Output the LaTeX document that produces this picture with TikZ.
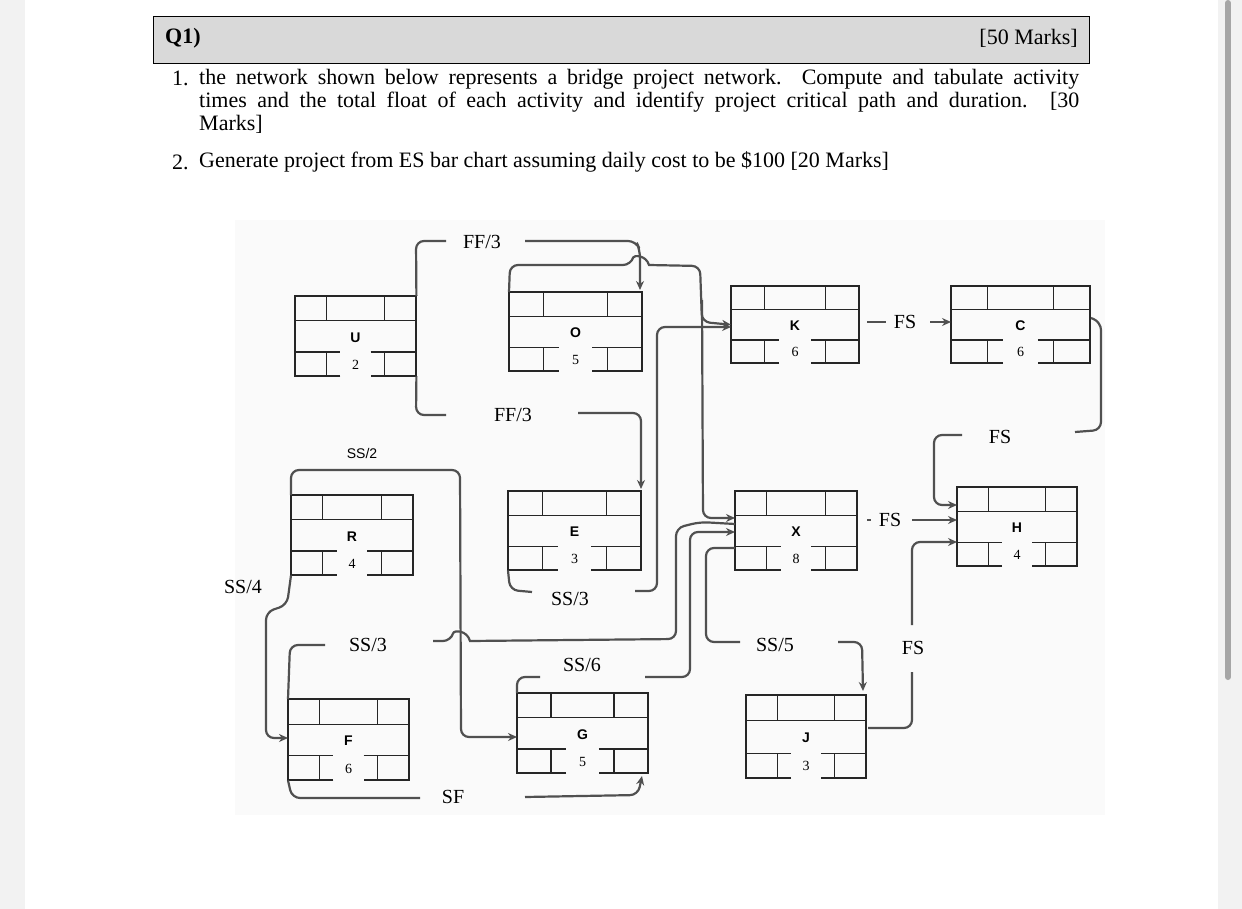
\documentclass[tikz,border=0pt]{standalone}
\usepackage{fontspec}
\setmainfont{Liberation Serif}
\newfontfamily\sansf{Liberation Sans}
\usetikzlibrary{arrows.meta}
\definecolor{conn}{HTML}{505050}
\tikzset{
  boxline/.style={draw=black!85,line width=1.2pt},
  conn/.style={draw=conn,line width=2.2pt,rounded corners=8pt},
  arr/.style={conn,-{Stealth[length=9pt,width=8pt]}},
  lab/.style={font=\fontsize{20}{22}\selectfont,inner sep=1pt},
  txt/.style={font=\fontsize{22}{23}\selectfont,anchor=west,inner sep=0pt},
}
\newcommand\actbox[7]{%
  \node[minimum width=#4pt,minimum height=#5pt,inner sep=0pt,anchor=north west] (#1) at (#2,#3) {};
  \begin{scope}[shift={(#2,#3)}]
    \draw[boxline] (0.375*#4,#5) -- (0,#5) -- (0,0) -- (#4,0) -- (#4,#5) -- (0.625*#4,#5);
    \draw[boxline] (0,0.31*#5) -- (#4,0.31*#5) (0.26*#4,0) -- (0.26*#4,0.31*#5) (0.74*#4,0) -- (0.74*#4,0.31*#5);
    \draw[boxline] (0,0.7*#5) -- (0.375*#4,0.7*#5) (0.625*#4,0.7*#5) -- (#4,0.7*#5)
      (0.26*#4,0.7*#5) -- (0.26*#4,#5) (0.74*#4,0.7*#5) -- (0.74*#4,#5);
    \node[font=\sansf\bfseries\fontsize{14}{14}\selectfont] (#1l) at (0.5*#4,0.52*#5) {#6};
    \node[font=\fontsize{14}{14}\selectfont] (#1d) at (0.5*#4,0.86*#5) {#7};
  \end{scope}}
\begin{document}
\begin{tikzpicture}[x=1pt,y=-1pt]
\useasboundingbox (0,0) rectangle (1242,909);
\fill[gray!10] (0,0) rectangle (1242,909);
\fill[white] (25,0) rectangle (1218,909);
\draw[gray!70,line width=6pt,line cap=round] (1228,3) -- (1228,677);
% header
\node[draw=black,fill=gray!30,line width=0.8pt,minimum width=936pt,minimum height=47pt,inner sep=0,anchor=north west] (hdr) at (153,16) {};
\node[txt,font=\bfseries\fontsize{22}{23}\selectfont] (q1) at (165,38) {Q1)};
\node[txt,anchor=east] (mk) at (1078,38) {[50 Marks]};
\node[txt] (n1) at (172,78) {1.};
\node[txt,anchor=north west,text width=880pt,align=justify] (l1) at (199,69) {the network shown below represents a bridge project network. Compute and tabulate activity\linebreak times and the total float of each activity and identify project critical path and duration. [30\linebreak Marks]};
\node[txt] (n2) at (172,162) {2.};
\node[txt] (l4) at (199,162) {Generate project from ES bar chart assuming daily cost to be \$100 [20 Marks]};
\fill[gray!4] (235,220) rectangle (1105,815);
% boxes
\actbox{U}{295}{296}{121}{80}{U}{2}
\actbox{O}{509}{292}{133}{79}{O}{5}
\actbox{K}{731}{286}{128}{77}{K}{6}
\actbox{C}{951}{286}{139}{77}{C}{6}
\actbox{R}{291}{495}{122}{80}{R}{4}
\actbox{E}{508}{491}{133}{79}{E}{3}
\actbox{X}{735}{491}{122}{79}{X}{8}
\actbox{H}{957}{487}{120}{79}{H}{4}
\actbox{F}{288}{699}{121}{81}{F}{6}
\actbox{G}{517}{693}{131}{80}{G}{5}
\actbox{J}{746}{695}{120}{83}{J}{3}
% labels
\node[lab] (ff1) at (482,242) {FF/3};
\node[lab] (ff2) at (513,415) {FF/3};
\node[lab] (ss3e) at (570,599) {SS/3};
\node[font=\sansf\fontsize{14}{14}\selectfont] (ss2) at (362,453) {SS/2};
\node[lab] (ss4) at (243,587) {SS/4};
\node[lab] (ss3f) at (368,645) {SS/3};
\node[lab] (ss6) at (582,665) {SS/6};
\node[lab] (ss5) at (775,645) {SS/5};
\node[lab] (sf) at (453,797) {SF};
\node[lab] (fs1) at (905,322) {FS};
\node[lab] (fs2) at (1000,437) {FS};
\node[lab] (fs3) at (890,520) {FS};
\node[lab] (fs4) at (913,648) {FS};
% connectors
\draw[conn] (U.north east) -- (416,241) -- (446,241);
\draw[arr] (525,241) -- (636,241) -- (640,250) -- (640,290);
\draw[arr] (O.north west) -- (510,265) -- (631,265) [sharp corners] .. controls (634,255) and (646,255) .. (649,265) [rounded corners=8pt] -- (700,266) -- (702,322) -- (K.west);
\draw[arr] (702,300) -- (703,518) -- (X.west |- 0,518);
\draw[conn] (U.south east) -- (416,415) -- (446,415);
\draw[arr] (578,413) -- (641,413) -- (641,489);
\draw[conn] (E.south west) -- (510,590) -- (532,592);
\draw[arr] (635,591) -- (657,591) -- (657,327) -- (K.west |- 0,327);
\draw[arr] (R.north west) -- (291,470) -- (460,470) -- (461,737) -- (G.west |- 0,737);
\draw[arr] (R.south west) -- (287,605) -- (266,612) -- (266,738) -- (F.west |- 0,738);
\draw[conn] (F.north west) -- (290,645) -- (325,645);
\draw[conn] (433,641) -- (451,641) [sharp corners] .. controls (454,630) and (467,630) .. (470,641) [rounded corners=8pt] -- (676,639) -- (676,528) -- (700,522) -- (X.west |- 0,524);
\draw[conn] (G.north west) -- (517,677) -- (540,677);
\draw[arr] (645,677) -- (690,677) -- (690,532) -- (X.west |- 0,532);
\draw[conn] (X.west |- 0,548) -- (706,548) -- (706,642) -- (740,642);
\draw[arr] (838,642) -- (862,642) -- (863,691);
\draw[conn] (868,728) -- (912,728) -- (912,672);
\draw[arr] (912,625) -- (912,542) -- (H.west |- 0,542);
\draw[conn] (867,520) -- (871,520);
\draw[arr] (912,520) -- (H.west |- 0,520);
\draw[conn] (867,322) -- (886,322);
\draw[arr] (930,322) -- (C.west |- 0,322);
\draw[conn] (1091,318) -- (1101,322) -- (1101,430) -- (1075,432);
\draw[arr] (962,435) -- (934,435) -- (934,505) -- (H.west |- 0,505);
\draw[conn] (F.south west) -- (292,798) -- (420,798);
\draw[arr] (525,797) -- (638,795) -- (642,776);
\end{tikzpicture}
\end{document}
